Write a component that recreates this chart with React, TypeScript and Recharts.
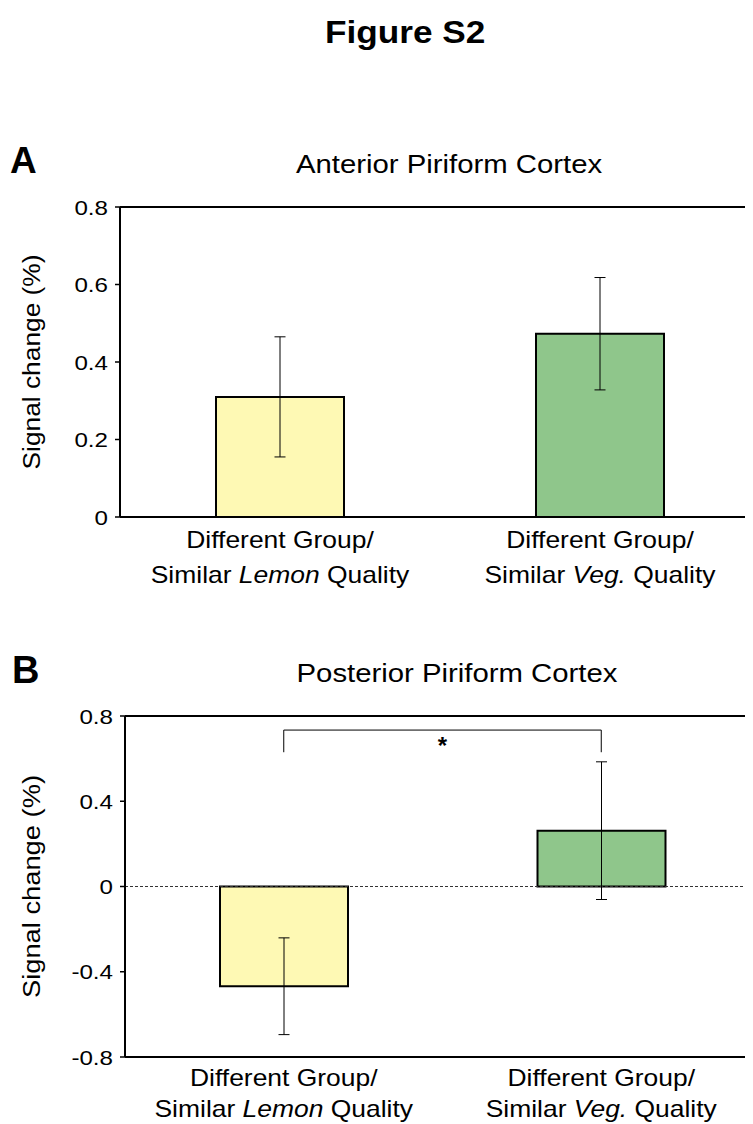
import React from 'react'
import {
   BarChart,
   Bar,
   Cell,
   XAxis,
   YAxis,
   ErrorBar,
   ReferenceLine,
} from 'recharts'

// categories and labels
const categories = ['lemon', 'veg']
const labelTop = ['Different Group/', 'Different Group/']
const labelPre = ['Similar ', 'Similar ']
const labelItalic = ['Lemon', 'Veg.']
const labelPost = [' Quality', ' Quality']
const barFills = ['#FEF9B4', '#8FC68B']

// panel A: anterior piriform cortex
const anteriorMeans = [0.31, 0.473]
const anteriorErr = [0.155, 0.145]
const anteriorTicks = [0, 0.2, 0.4, 0.6, 0.8]

// panel B: posterior piriform cortex
const posteriorMeans = [-0.468, 0.262]
const posteriorErr = [0.227, 0.323]
const posteriorTicks = [-0.8, -0.4, 0, 0.4, 0.8]
const bracketTop = 0.734
const bracketEnd = 0.63

const FONT = '"Liberation Sans", Arial, Helvetica, sans-serif'
const STRETCH = 1.15

const anteriorData = categories.map((c, i) => ({
   key: c,
   value: anteriorMeans[i],
   err: anteriorErr[i],
}))
const posteriorData = categories.map((c, i) => ({
   key: c,
   value: posteriorMeans[i],
   err: posteriorErr[i],
}))

const fmt = (v: number) => (v === 0 ? '0' : v.toFixed(1))

const YTick = (props: any) => {
   const { x, y, payload } = props
   return (
      <g transform={`translate(${x},${y}) scale(${STRETCH},1)`}>
         <text
            x={0}
            y={0}
            dy={7.5}
            textAnchor="end"
            fontFamily={FONT}
            fontSize={21}
            fill="#000"
         >
            {fmt(payload.value)}
         </text>
      </g>
   )
}

const makeXTick = (gap1: number, gap2: number) => (props: any) => {
   const { x, y, payload } = props
   const i = categories.indexOf(payload.value)
   return (
      <g transform={`translate(${x},${y}) scale(${STRETCH},1)`}>
         <text x={0} y={gap1} textAnchor="middle" fontFamily={FONT} fontSize={23} fill="#000">
            {labelTop[i]}
         </text>
         <text x={0} y={gap2} textAnchor="middle" fontFamily={FONT} fontSize={23} fill="#000">
            {labelPre[i]}
            <tspan fontStyle="italic">{labelItalic[i]}</tspan>
            {labelPost[i]}
         </text>
      </g>
   )
}

const yLabel = (length: number) => (props: any) => {
   const vb = props.viewBox
   const cy = vb.y + vb.height / 2
   return (
      <text
         transform={`translate(24,${cy}) rotate(-90)`}
         textAnchor="middle"
         dominantBaseline="central"
         fontFamily={FONT}
         fontSize={23}
         textLength={length}
         lengthAdjust="spacingAndGlyphs"
         fill="#000"
      >
         Signal change (%)
      </text>
   )
}

const Star = (props: any) => {
   const vb = props.viewBox
   return (
      <text
         x={vb.x + vb.width / 2}
         y={vb.y + 24}
         textAnchor="middle"
         fontFamily={FONT}
         fontSize={24}
         fontWeight="bold"
         fill="#000"
      >
         *
      </text>
   )
}

const axisLine = { stroke: '#000', strokeWidth: 2 }

const App = () => {
   return (
      <div
         style={{
            position: 'relative',
            width: 745,
            height: 1116,
            overflow: 'hidden',
            background: '#fff',
         }}
      >
         <div style={{ position: 'absolute', left: 0, top: 130 }}>
            <BarChart
               width={780}
               height={480}
               data={anteriorData}
               margin={{ top: 69, right: 28, left: 52, bottom: 11 }}
               barCategoryGap={0}
            >
               <XAxis
                  dataKey="key"
                  axisLine={axisLine}
                  tickLine={false}
                  tickSize={0}
                  tickMargin={0}
                  height={90}
                  interval={0}
                  tick={makeXTick(31, 66)}
               />
               <YAxis
                  type="number"
                  domain={[0, 0.8]}
                  ticks={anteriorTicks}
                  interval={0}
                  width={60}
                  axisLine={axisLine}
                  tickLine={{ stroke: '#000', strokeWidth: 1.5 }}
                  tickSize={5}
                  tickMargin={7}
                  tick={<YTick />}
                  label={{ content: yLabel(215) }}
               />
               <ReferenceLine y={0.8} stroke="#000" strokeWidth={2} />
               <Bar
                  dataKey="value"
                  barSize={128}
                  stroke="#000"
                  strokeWidth={2}
                  isAnimationActive={false}
               >
                  {anteriorData.map((d, i) => (
                     <Cell key={d.key} fill={barFills[i]} />
                  ))}
                  <ErrorBar dataKey="err" width={5.5} stroke="#000" strokeWidth={1} />
               </Bar>
            </BarChart>
         </div>

         <div style={{ position: 'absolute', left: 0, top: 640 }}>
            <BarChart
               width={780}
               height={476}
               data={posteriorData}
               margin={{ top: 68, right: 28, left: 57, bottom: 0 }}
               barCategoryGap={0}
            >
               <XAxis
                  dataKey="key"
                  axisLine={axisLine}
                  tickLine={false}
                  tickSize={0}
                  tickMargin={0}
                  height={67}
                  interval={0}
                  tick={makeXTick(29, 60)}
               />
               <YAxis
                  type="number"
                  domain={[-0.8, 0.8]}
                  ticks={posteriorTicks}
                  interval={0}
                  width={60}
                  axisLine={axisLine}
                  tickLine={{ stroke: '#000', strokeWidth: 1.5 }}
                  tickSize={5}
                  tickMargin={7}
                  tick={<YTick />}
                  label={{ content: yLabel(223) }}
               />
               <ReferenceLine y={0.8} stroke="#000" strokeWidth={2} />
               <ReferenceLine y={0} stroke="#333" strokeWidth={1} strokeDasharray="3 2" />
               <ReferenceLine
                  segment={[
                     { x: categories[0], y: bracketTop },
                     { x: categories[1], y: bracketTop },
                  ]}
                  stroke="#000"
                  strokeWidth={1}
                  label={<Star />}
               />
               <ReferenceLine
                  segment={[
                     { x: categories[0], y: bracketTop },
                     { x: categories[0], y: bracketEnd },
                  ]}
                  stroke="#000"
                  strokeWidth={1}
               />
               <ReferenceLine
                  segment={[
                     { x: categories[1], y: bracketTop },
                     { x: categories[1], y: bracketEnd },
                  ]}
                  stroke="#000"
                  strokeWidth={1}
               />
               <Bar
                  dataKey="value"
                  barSize={128}
                  stroke="#000"
                  strokeWidth={2}
                  isAnimationActive={false}
               >
                  {posteriorData.map((d, i) => (
                     <Cell key={d.key} fill={barFills[i]} />
                  ))}
                  <ErrorBar dataKey="err" width={5.5} stroke="#000" strokeWidth={1} />
               </Bar>
            </BarChart>
         </div>

         {/* figure heading, panel letters, panel titles */}
         <svg
            width={745}
            height={1116}
            style={{ position: 'absolute', left: 0, top: 0, pointerEvents: 'none' }}
         >
            <g transform="translate(317,35) scale(1.1,1)">
               <text x={0} y={0} fontFamily={FONT} fontSize={32} fontWeight="bold">
                  Figure S2
               </text>
            </g>
            <text x={2} y={165} fontFamily={FONT} fontSize={37} fontWeight="bold">
               A
            </text>
            <text x={4} y={675} fontFamily={FONT} fontSize={38} fontWeight="bold">
               B
            </text>
            <g transform={`translate(441,165) scale(${STRETCH},1)`}>
               <text x={0} y={0} textAnchor="middle" fontFamily={FONT} fontSize={25.5}>
                  Anterior Piriform Cortex
               </text>
            </g>
            <g transform={`translate(449,674) scale(${STRETCH},1)`}>
               <text x={0} y={0} textAnchor="middle" fontFamily={FONT} fontSize={25.5}>
                  Posterior Piriform Cortex
               </text>
            </g>
         </svg>
      </div>
   )
}

export default App
